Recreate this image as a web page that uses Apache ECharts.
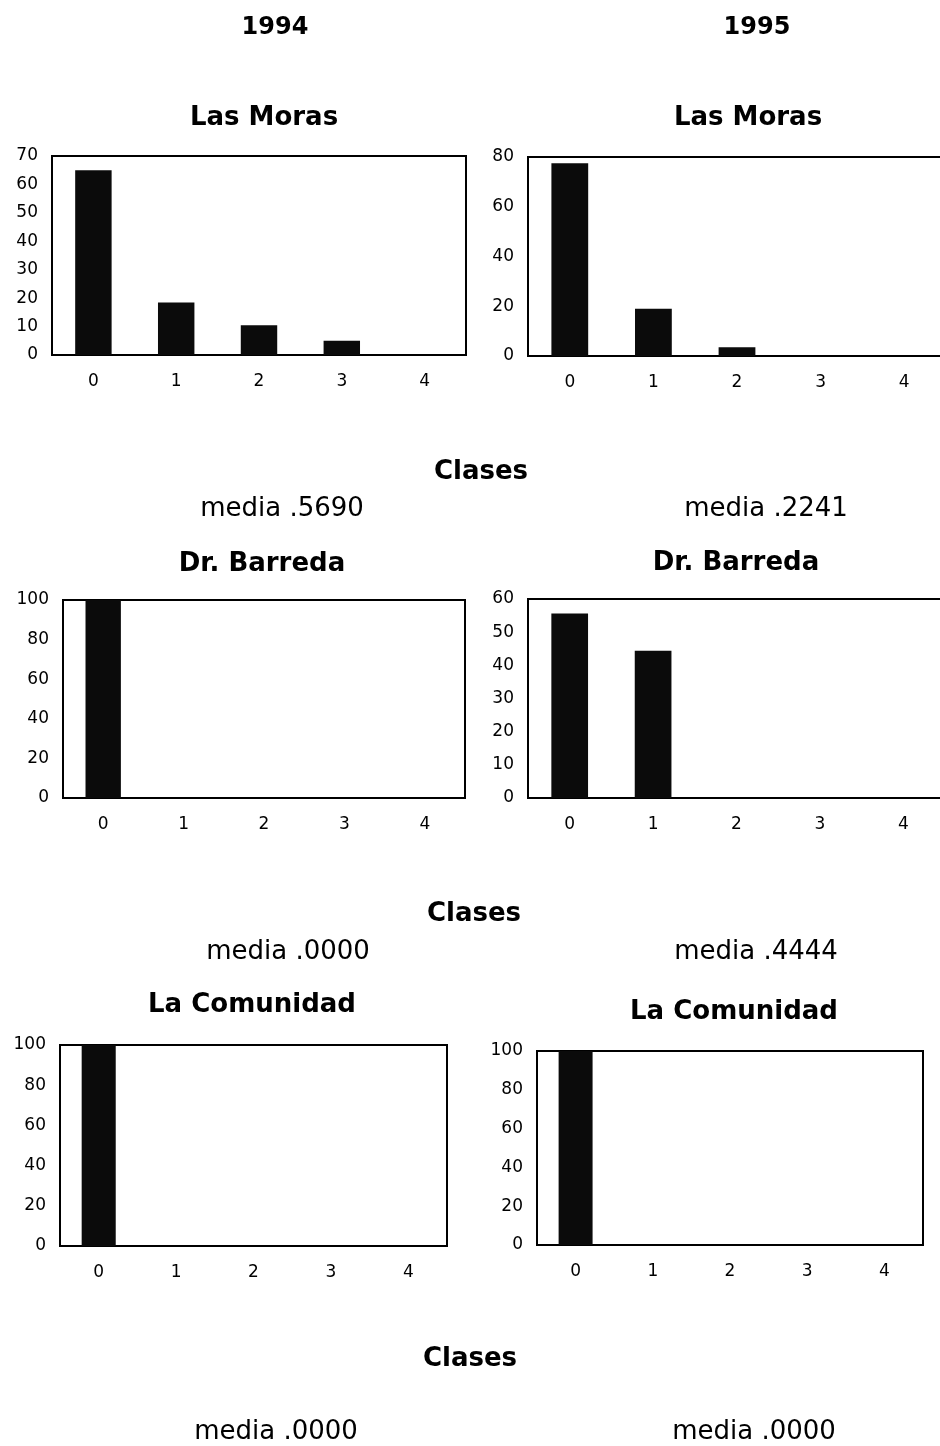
<!DOCTYPE html>
<html>
<head>
<meta charset="utf-8">
<script src="https://cdn.jsdelivr.net/npm/echarts@6/dist/echarts.min.js"></script>
<style>html,body{margin:0;padding:0;background:#fff;overflow:hidden;width:940px;height:1446px;}#c{width:970px;height:1446px;}</style>
</head>
<body>
<div id="c"></div>
<script>
// ---- data ----
var categories = ['0', '1', '2', '3', '4'];
var lasMoras1994 = [65, 18.5, 10.5, 5, 0];
var lasMoras1995 = [77.5, 19, 3.5, 0, 0];
var drBarreda1994 = [100, 0, 0, 0, 0];
var drBarreda1995 = [55.6, 44.4, 0, 0, 0];
var laComunidad1994 = [100, 0, 0, 0, 0];
var laComunidad1995 = [100, 0, 0, 0, 0];
var yMax = [70, 80, 100, 60, 100, 100];
var yInterval = [10, 20, 20, 10, 20, 20];
var yearLabels = ['1994', '1995'];
var siteNames = ['Las Moras', 'Dr. Barreda', 'La Comunidad'];
var xAxisName = 'Clases';
var meanLabels = ['media .5690', 'media .2241', 'media .0000', 'media .4444', 'media .0000', 'media .0000'];

var seriesData = [lasMoras1994, lasMoras1995, drBarreda1994, drBarreda1995, laComunidad1994, laComunidad1995];

// ---- layout ----
var grids = [
  {left: 52, width: 414, top: 156, height: 199},
  {left: 528, width: 418, top: 157, height: 199},
  {left: 63, width: 402, top: 600, height: 198},
  {left: 528, width: 417, top: 599, height: 199},
  {left: 60, width: 387, top: 1045, height: 201},
  {left: 537, width: 386, top: 1051, height: 194}
];

var tickFont = {fontFamily: '"DejaVu Sans", sans-serif', fontSize: 17, color: '#000'};

var option = {
  backgroundColor: '#fff',
  animation: false,
  grid: [], xAxis: [], yAxis: [], series: [], graphic: []
};

grids.forEach(function (g, i) {
  option.grid.push({left: g.left, width: g.width, top: g.top, height: g.height,
    show: true, borderColor: '#000', borderWidth: 2, backgroundColor: '#fff', containLabel: false});
  option.xAxis.push({type: 'category', gridIndex: i, data: categories, boundaryGap: true,
    axisLine: {show: true, lineStyle: {color: '#000', width: 2}}, axisTick: {show: false},
    axisLabel: Object.assign({margin: 18}, tickFont), splitLine: {show: false}});
  option.yAxis.push({type: 'value', gridIndex: i, min: 0, max: yMax[i], interval: yInterval[i],
    axisLine: {show: true, lineStyle: {color: '#000', width: 2}}, axisTick: {show: false},
    axisLabel: Object.assign({margin: 14}, tickFont), splitLine: {show: false}});
  option.series.push({type: 'bar', xAxisIndex: i, yAxisIndex: i, data: seriesData[i],
    barWidth: '44%', itemStyle: {color: '#0b0b0b'}, silent: true});
});

function txt(x, y, s, bold, size) {
  option.graphic.push({type: 'text', x: x, y: y, silent: true,
    style: {text: s, textAlign: 'center', textVerticalAlign: 'middle',
      font: (bold ? 'bold ' : '') + size + 'px "DejaVu Sans", sans-serif', fill: '#000'}});
}

txt(275, 28, yearLabels[0], true, 24);
txt(757, 28, yearLabels[1], true, 24);
txt(264, 118, siteNames[0], true, 26);
txt(748, 118, siteNames[0], true, 26);
txt(481, 472, xAxisName, true, 26);
txt(282, 509, meanLabels[0], false, 26);
txt(766, 509, meanLabels[1], false, 26);
txt(262, 564, siteNames[1], true, 26);
txt(736, 563, siteNames[1], true, 26);
txt(474, 914, xAxisName, true, 26);
txt(288, 952, meanLabels[2], false, 26);
txt(756, 952, meanLabels[3], false, 26);
txt(252, 1005, siteNames[2], true, 26);
txt(734, 1012, siteNames[2], true, 26);
txt(470, 1359, xAxisName, true, 26);
txt(276, 1432, meanLabels[4], false, 26);
txt(754, 1432, meanLabels[5], false, 26);

var chart = echarts.init(document.getElementById('c'), null, {renderer: 'canvas'});
chart.setOption(option);
</script>
</body>
</html>
